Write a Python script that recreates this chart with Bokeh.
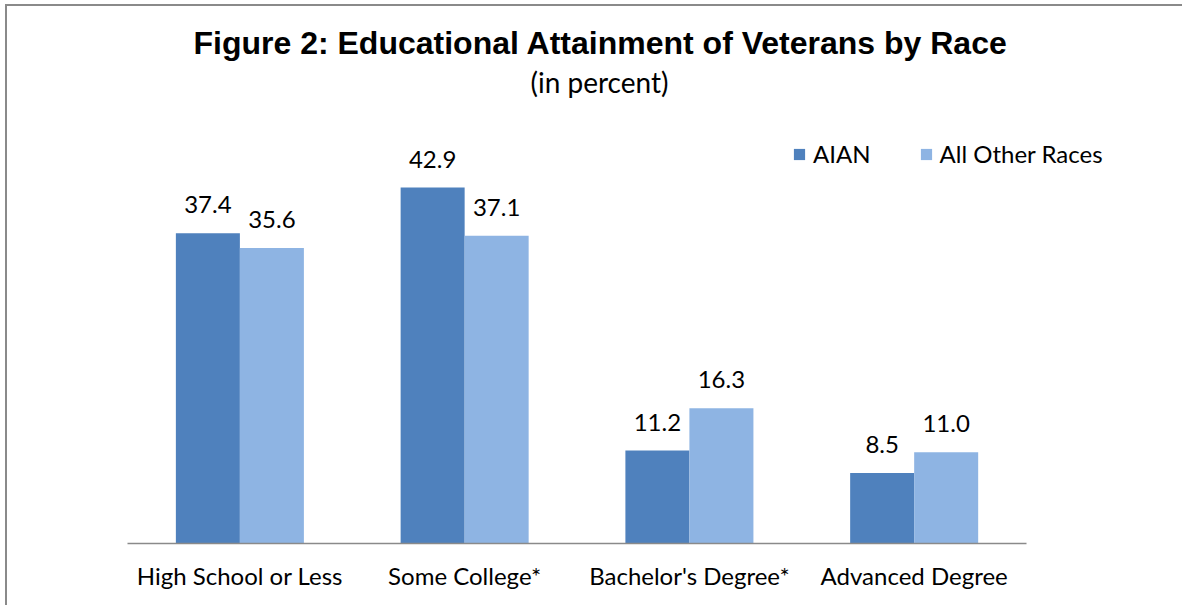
from bokeh.plotting import figure
from bokeh.models import ColumnDataSource, Range1d, LabelSet, Title, Legend, LegendItem, FixedTicker
from bokeh.core.properties import value
from bokeh.embed import file_html
from bokeh.resources import INLINE

categories = ["High School or Less", "Some College*", "Bachelor's Degree*", "Advanced Degree"]
series = ["AIAN", "All Other Races"]
aian = [37.4, 42.9, 11.2, 8.5]
other = [35.6, 37.1, 16.3, 11.0]
colors = ["#4F81BD", "#8EB4E3"]

FONT = "Lato"
pos = list(range(len(categories)))
off = 0.1424
bw = 0.2848

src = ColumnDataSource(dict(
    pos=pos,
    x_aian=[i - off for i in pos],
    x_other=[i + off for i in pos],
    aian=aian,
    other=other,
    aian_txt=[f"{v:.1f}" for v in aian],
    other_txt=[f"{v:.1f}" for v in other],
))

p = figure(width=1177, height=601, output_backend="svg", toolbar_location=None,
           x_range=Range1d(-0.5, 3.918), y_range=Range1d(0, 53.39),
           min_border_left=120, min_border_right=64, min_border_top=94, min_border_bottom=64)
p.styles = {"border-left": "2px solid #8a8a8a", "border-top": "2px solid #8a8a8a",
            "margin-left": "5px", "margin-top": "4px"}

r1 = p.vbar(x="x_aian", top="aian", width=bw, source=src, fill_color=colors[0], line_color=None)
r2 = p.vbar(x="x_other", top="other", width=bw, source=src, fill_color=colors[1], line_color=None)

for xf, field, txt in (("x_aian", "aian", "aian_txt"), ("x_other", "other", "other_txt")):
    p.add_layout(LabelSet(x=xf, y=field, text=txt, source=src,
                          text_align="center", text_baseline="bottom", y_offset=20,
                          text_font=value(FONT), text_font_size="24px", text_color="#000000"))

legend = Legend(items=[LegendItem(label=series[0], renderers=[r1]),
                       LegendItem(label=series[1], renderers=[r2])],
                orientation="horizontal", location=(665, 375),
                glyph_width=14, glyph_height=14, label_standoff=7, spacing=48,
                padding=0, margin=0, border_line_color=None, background_fill_alpha=0,
                label_text_font=FONT, label_text_font_size="24px", label_text_color="#000000")
p.add_layout(legend, "center")

p.add_layout(Title(text="(in percent)", text_font=FONT, text_font_size="28px",
                   text_font_style="normal", text_color="#000000",
                   align="left", offset=403, standoff=4), "above")
p.add_layout(Title(text="Figure 2: Educational Attainment of Veterans by Race",
                   text_font="Liberation Sans", text_font_size="32px",
                   text_font_style="bold", text_color="#000000",
                   align="left", offset=66, standoff=0), "above")

p.yaxis.visible = False
p.xgrid.grid_line_color = None
p.ygrid.grid_line_color = None
p.outline_line_color = None
xa = p.xaxis[0]
xa.ticker = FixedTicker(ticks=pos)
xa.major_label_overrides = {i: c for i, c in zip(pos, categories)}
xa.bounds = (pos[0] - 0.5, pos[-1] + 0.5)
xa.axis_line_color = "#8A8A8A"
xa.axis_line_width = 1.5
xa.major_tick_line_color = None
xa.minor_tick_line_color = None
xa.major_label_standoff = 11
xa.major_label_text_font = FONT
xa.major_label_text_font_size = "24px"
xa.major_label_text_color = "#000000"

open("out.html", "w").write(file_html(p, INLINE))
